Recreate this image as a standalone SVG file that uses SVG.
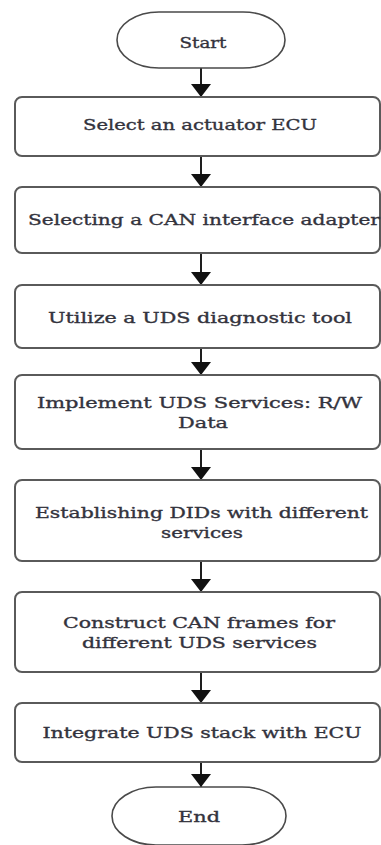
<svg xmlns="http://www.w3.org/2000/svg" width="381" height="845" viewBox="0 0 381 845">
  <style>
    .box { fill: #ffffff; stroke: #5a5a5a; stroke-width: 2; }
    .term { fill: #ffffff; stroke: #4a4a4a; stroke-width: 1.6; }
    .lbl { font-family: "DejaVu Serif", "Liberation Serif", serif; font-size: 15.5px; fill: #33333d; stroke: #33333d; stroke-width: 0.35; text-anchor: middle; }
    .conn { stroke: #1e1e1e; stroke-width: 2; fill: none; }
  </style>
  <defs>
    <marker id="arrow" markerUnits="userSpaceOnUse" markerWidth="14" markerHeight="20" refX="13" refY="10" orient="auto">
      <path d="M0,0 L13,10 L0,20 z" fill="#111111"/>
    </marker>
  </defs>
  <rect width="381" height="845" fill="#ffffff"/>

  <g id="connectors">
    <line class="conn" x1="201" y1="68" x2="201" y2="97" marker-end="url(#arrow)"/>
    <line class="conn" x1="201" y1="156" x2="201" y2="187" marker-end="url(#arrow)"/>
    <line class="conn" x1="201" y1="253" x2="201" y2="285" marker-end="url(#arrow)"/>
    <line class="conn" x1="201" y1="348" x2="201" y2="375" marker-end="url(#arrow)"/>
    <line class="conn" x1="201" y1="449" x2="201" y2="480" marker-end="url(#arrow)"/>
    <line class="conn" x1="201" y1="561" x2="201" y2="592" marker-end="url(#arrow)"/>
    <line class="conn" x1="201" y1="672" x2="201" y2="703" marker-end="url(#arrow)"/>
    <line class="conn" x1="201" y1="762" x2="201" y2="787" marker-end="url(#arrow)"/>
  </g>

  <g id="start">
    <rect class="term" x="117" y="12" width="168" height="56" rx="42" ry="28"/>
    <text class="lbl" x="203" y="48" textLength="47" lengthAdjust="spacingAndGlyphs">Start</text>
  </g>
  <g id="step1">
    <rect class="box" x="15" y="97" width="365" height="59" rx="7"/>
    <text class="lbl" x="200" y="130" textLength="234" lengthAdjust="spacingAndGlyphs">Select an actuator ECU</text>
  </g>
  <g id="step2">
    <rect class="box" x="15" y="187" width="365" height="66" rx="7"/>
    <text class="lbl" x="204" y="225" textLength="352" lengthAdjust="spacingAndGlyphs">Selecting a CAN interface adapter</text>
  </g>
  <g id="step3">
    <rect class="box" x="15" y="285" width="365" height="63" rx="7"/>
    <text class="lbl" x="200" y="323" textLength="304" lengthAdjust="spacingAndGlyphs">Utilize a UDS diagnostic tool</text>
  </g>
  <g id="step4">
    <rect class="box" x="15" y="375" width="365" height="74" rx="7"/>
    <text class="lbl" x="199.5" y="408" textLength="325" lengthAdjust="spacingAndGlyphs">Implement UDS Services: R/W</text>
    <text class="lbl" x="203" y="428" textLength="50" lengthAdjust="spacingAndGlyphs">Data</text>
  </g>
  <g id="step5">
    <rect class="box" x="15" y="480" width="365" height="81" rx="7"/>
    <text class="lbl" x="201.5" y="518" textLength="333" lengthAdjust="spacingAndGlyphs">Establishing DIDs with different</text>
    <text class="lbl" x="202" y="538" textLength="82" lengthAdjust="spacingAndGlyphs">services</text>
  </g>
  <g id="step6">
    <rect class="box" x="15" y="592" width="365" height="80" rx="7"/>
    <text class="lbl" x="199" y="628" textLength="272" lengthAdjust="spacingAndGlyphs">Construct CAN frames for</text>
    <text class="lbl" x="199.5" y="648" textLength="235" lengthAdjust="spacingAndGlyphs">different UDS services</text>
  </g>
  <g id="step7">
    <rect class="box" x="15" y="703" width="365" height="59" rx="7"/>
    <text class="lbl" x="202" y="738" textLength="319" lengthAdjust="spacingAndGlyphs">Integrate UDS stack with ECU</text>
  </g>
  <g id="end">
    <rect class="term" x="112" y="787" width="174" height="58" rx="44" ry="29"/>
    <text class="lbl" x="199" y="822" textLength="42" lengthAdjust="spacingAndGlyphs">End</text>
  </g>
</svg>
